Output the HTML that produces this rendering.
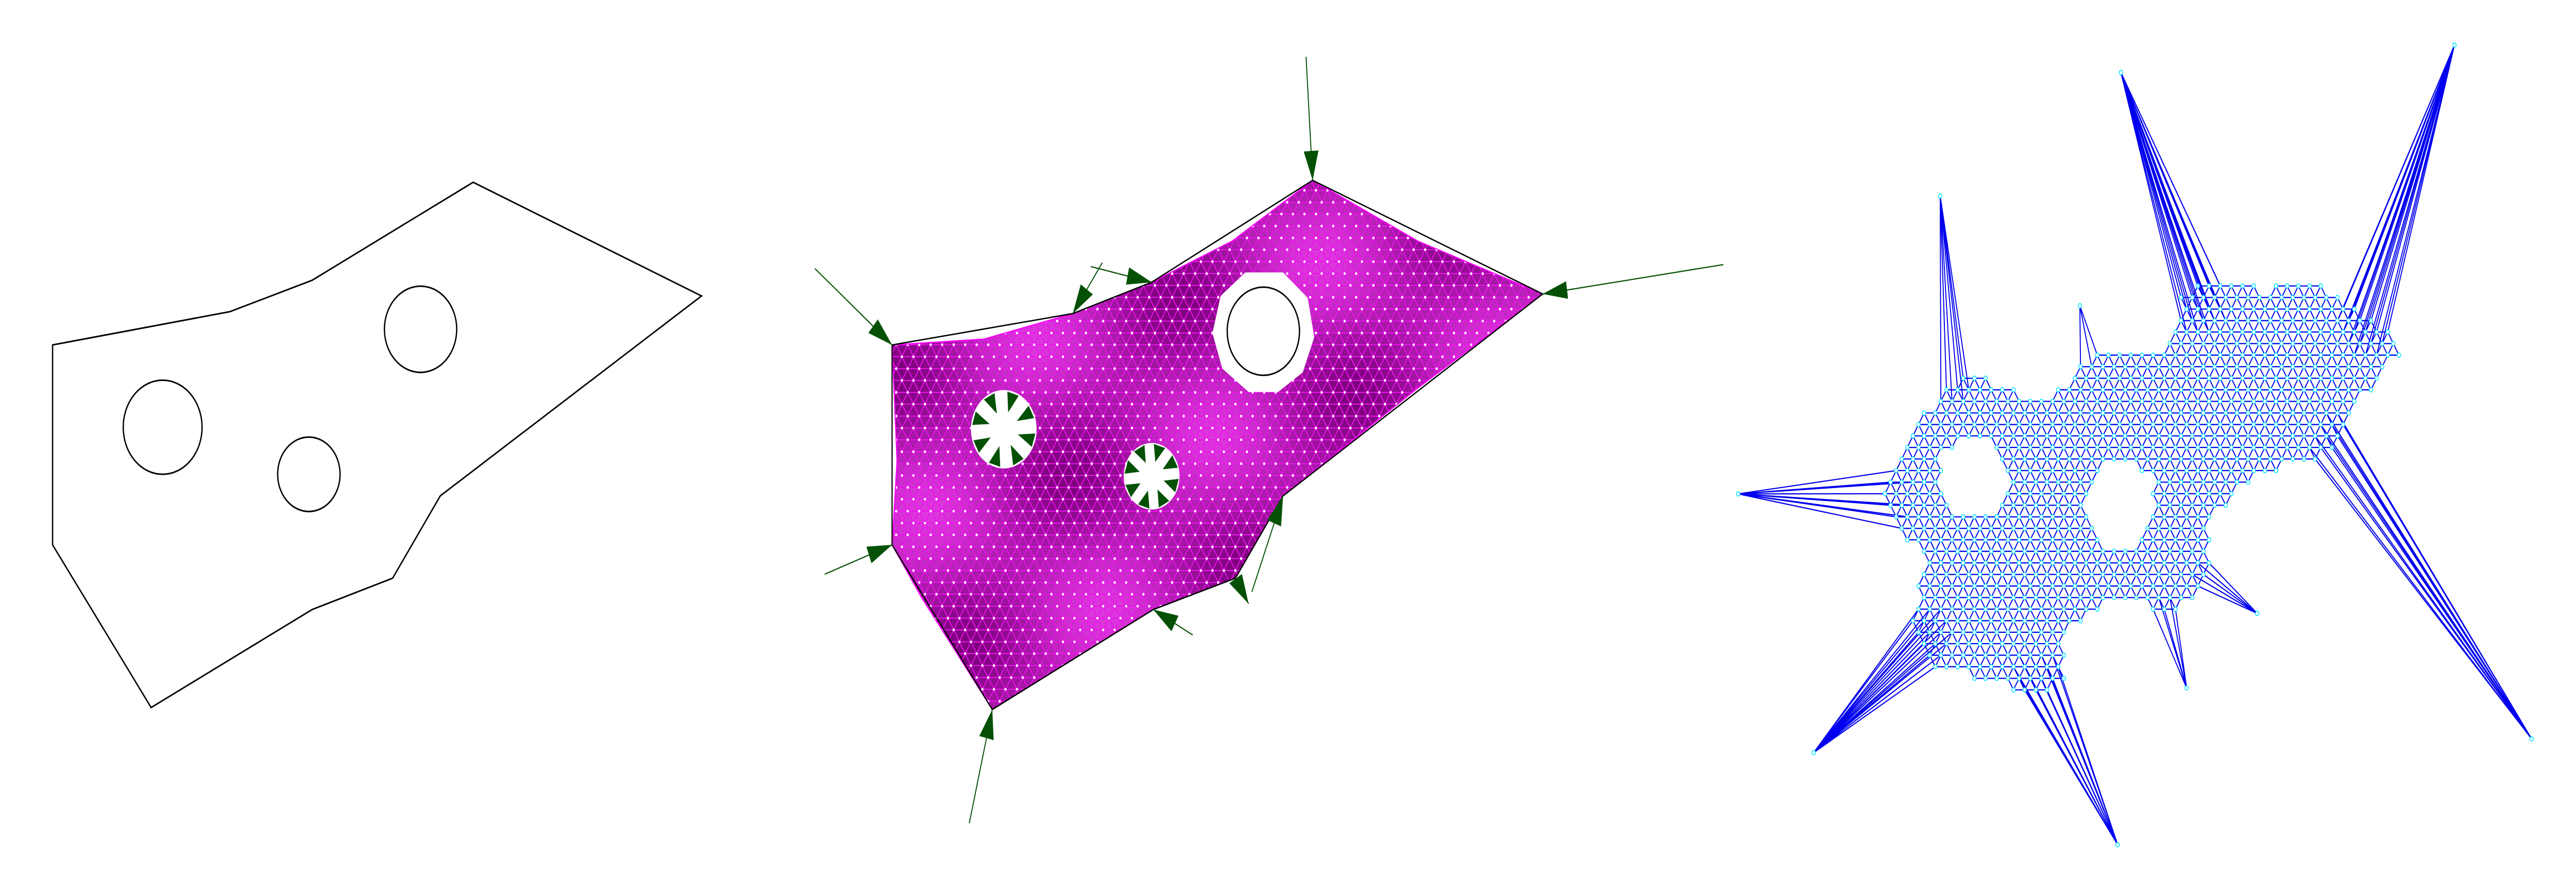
<!DOCTYPE html>
<html><head><meta charset="utf-8"><style>html,body{margin:0;padding:0;background:#fff;width:100vw;height:100vh;overflow:hidden}svg{display:block;width:100vw;height:100vh}</style></head>
<body>
<svg id="fig" xmlns="http://www.w3.org/2000/svg" viewBox="0 0 1568 449" preserveAspectRatio="none">
<g id="p1" fill="none" stroke="#000" stroke-width="0.8">
<polygon points="32,176 140,159 190,143 288,93 427,151 268,253 239,295 190,311 92,361 32,278"/>
<circle cx="99" cy="218" r="24"/>
<circle cx="188" cy="242" r="19"/>
<circle cx="256" cy="168" r="22"/>
</g>
<defs><clipPath id="magclip"><polygon points="543,176 599,173 653,160 701,144 750,123 799,92 863,123 939,150 863,198 781,253 752,295 702,311 604,362 561,305 543,278 546,235"/></clipPath></defs>
<g id="p2">
<g id="mesh2" clip-path="url(#magclip)"></g>
<polygon points="543,176 599,173 653,160 701,144 750,123 799,92 863,123 939,150 863,198 781,253 752,295 702,311 604,362 561,305 543,278 546,235" fill="none" stroke="#ff00ff" stroke-width="0.6"/>
<polygon points="758,139 781,139 796,152 800,172 793,190 778,200 760,200 744,188 738,170 743,151" fill="#fff"/>
<ellipse cx="769" cy="169" rx="22" ry="22.5" fill="none" stroke="#000" stroke-width="0.8"/>
<circle cx="611" cy="219" r="20" fill="#fff"/>
<circle cx="701" cy="243" r="17" fill="#fff"/>
<polygon points="543,176 653,160 701,144 799,92 939,150 781,253 752,295 702,311 604,362 543,278" fill="none" stroke="#000" stroke-width="0.7"/>
<g id="arrows" fill="#045004" stroke="#045004"></g>
</g>
<g id="p3"></g>
</svg>
<script>
const NS='http://www.w3.org/2000/svg';
function mk(tag,attrs,parent){const e=document.createElementNS(NS,tag);for(const k in attrs)e.setAttribute(k,attrs[k]);parent.appendChild(e);return e;}
function inPoly(x,y,P){let c=false;for(let i=0,j=P.length-1;i<P.length;j=i++){const xi=P[i][0],yi=P[i][1],xj=P[j][0],yj=P[j][1];if(((yi>y)!=(yj>y))&&(x<(xj-xi)*(y-yi)/(yj-yi)+xi))c=!c;}return c;}

// Panel 2 mesh
const mesh2=document.getElementById('mesh2');
const s2=7,h2=s2*0.866;
let tris='';
function shade(x,y){const v=0.5+0.25*Math.sin(x/23+y/31)+0.25*Math.cos(y/19-x/41);const r=Math.round(125+v*95),b=Math.round(125+v*95);return 'rgb('+r+','+Math.round(v*55)+','+b+')';}
const rows=[];
for(let r=0;r*h2<290;r++){const row=[];const y=85+r*h2;for(let c=0;c*s2<420;c++){row.push([535+c*s2+(r%2?s2/2:0),y]);}rows.push(row);}
for(let r=0;r<rows.length-1;r++){const a=rows[r],b=rows[r+1];for(let c=0;c<a.length-1;c++){let t1,t2;if(r%2==0){t1=[a[c],a[c+1],b[c]];t2=[a[c+1],b[c+1],b[c]];}else{t1=[a[c],a[c+1],b[c+1]];t2=[a[c],b[c+1],b[c]];}
for(const t of [t1,t2]){const cx=(t[0][0]+t[1][0]+t[2][0])/3,cy=(t[0][1]+t[1][1]+t[2][1])/3;tris+='<polygon points="'+t.map(p=>p[0].toFixed(1)+','+p[1].toFixed(1)).join(' ')+'" fill="'+shade(cx,cy)+'"/>';}}}
const g2=mk('g',{stroke:'#f010f0','stroke-width':'0.5'},mesh2);


g2.innerHTML=tris;
let dots='';for(const row of rows)for(const p of row)dots+='<circle cx="'+p[0].toFixed(1)+'" cy="'+p[1].toFixed(1)+'" r="0.7"/>';
const gd=mk('g',{fill:'#fff'},mesh2);


gd.innerHTML=dots;

// Arrows
const arrowsG=document.getElementById('arrows');
const arrowFrom=[[496,137],[795,29],[1049,135],[502,293],[590,420],[726,324],[762,302],[671,134],[664,136],[752,295]];
const arrowTo=[[543,176],[799,92],[939,150],[543,278],[604,362],[702,311],[781,253],[653,160],[701,144],[760,308]];
function head(tx,ty,fx,fy,L,W,g){const dx=tx-fx,dy=ty-fy,d=Math.hypot(dx,dy),ux=dx/d,uy=dy/d;const bx=tx-ux*L,by=ty-uy*L;return mk('polygon',{points:tx+','+ty+' '+(bx-uy*W)+','+(by+ux*W)+' '+(bx+uy*W)+','+(by-ux*W),stroke:'none'},g);}
arrowFrom.forEach((f,i)=>{const t=arrowTo[i];
const l=mk('line',{x1:f[0],y1:f[1],x2:t[0],y2:t[1],'stroke-width':'0.6'},arrowsG);


const h=head(t[0],t[1],f[0],f[1],15,4.5,arrowsG);

});
const holeC=[[611,219,20],[701,243,17]];
holeC.forEach(hc=>{for(let k=0;k<8;k++){const a=k*Math.PI/4+0.3;const tx=hc[0]+Math.cos(a)*hc[2]*0.45,ty=hc[1]+Math.sin(a)*hc[2]*0.45;const fx=hc[0]+Math.cos(a)*hc[2],fy=hc[1]+Math.sin(a)*hc[2];
const h=head(tx,ty,fx,fy,hc[2]*0.5,3.6,arrowsG);

}});

// Panel 3 network
const p3=document.getElementById('p3');
const blob=[[1146,249],[1159,230],[1179,198],[1201,190],[1215,194],[1244,203],[1270,182],[1277,179],[1316,179],[1329,147],[1358,142],[1378,146],[1414,142],[1420,147],[1453,169],[1463,178],[1453,190],[1440,203],[1427,225],[1411,238],[1375,241],[1348,266],[1348,289],[1342,300],[1322,313],[1309,311],[1283,309],[1260,321],[1257,348],[1244,353],[1228,353],[1188,344],[1175,341],[1162,321],[1166,297],[1172,289],[1153,269]];
const holes3=[[1201,244,19],[1291,257,20]];
const spikes=[[1058,252],[1104,384],[1181,100],[1266,156],[1289,431],[1331,351],[1374,313],[1291,37],[1494,23],[1541,377]];
const anchors=[[1153,255,16],[1175,325,16],[1186,196,14],[1272,182,9],[1240,345,16],[1318,309,10],[1343,295,10],[1340,155,18],[1440,168,18],[1420,228,18]];
const s3=6.8,h3=s3*0.866;const pts=[];
for(let r=0;r*h3<220;r++){for(let c=0;c*s3<330;c++){const x=1144+c*s3+(r%2?s3/2:0),y=140+r*h3;if(!inPoly(x,y,blob))continue;let ok=true;for(const h of holes3)if(Math.hypot(x-h[0],y-h[1])<h[2])ok=false;if(ok)pts.push([x,y]);}}
let bl='';
for(let i=0;i<pts.length;i++)for(let j=i+1;j<pts.length;j++){const d=Math.hypot(pts[i][0]-pts[j][0],pts[i][1]-pts[j][1]);if(d<s3*1.1)bl+='M'+pts[i][0].toFixed(1)+' '+pts[i][1].toFixed(1)+'L'+pts[j][0].toFixed(1)+' '+pts[j][1].toFixed(1);}
spikes.forEach((s,k)=>{const a=anchors[k];pts.forEach(p=>{if(Math.hypot(p[0]-a[0],p[1]-a[1])<a[2])bl+='M'+s[0]+' '+s[1]+'L'+p[0].toFixed(1)+' '+p[1].toFixed(1);});});
const ep=mk('path',{d:bl,stroke:'#0000ee','stroke-width':'0.6',fill:'none'},p3);


let cc='';pts.concat(spikes).forEach(p=>{cc+='<circle cx="'+p[0].toFixed(1)+'" cy="'+p[1].toFixed(1)+'" r="1.1"/>';});
const ng=mk('g',{fill:'#fff',stroke:'#00e5ff','stroke-width':'0.45'},p3);


ng.innerHTML=cc;
</script>
</body></html>
